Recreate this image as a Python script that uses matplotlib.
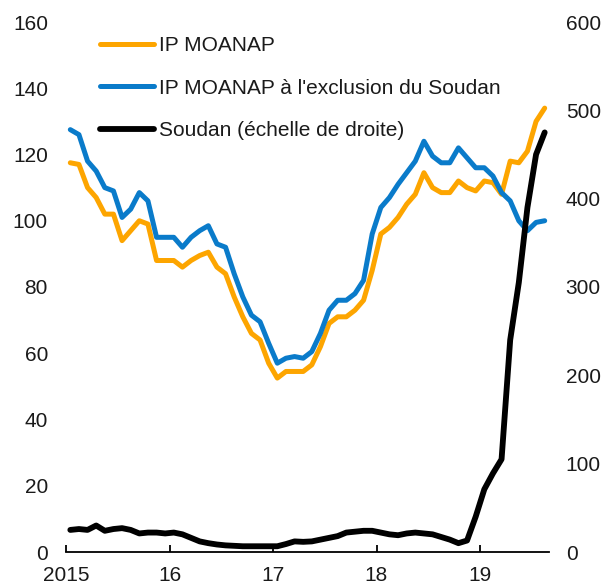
import numpy as np
import matplotlib
matplotlib.use("Agg")
import matplotlib.pyplot as plt

plt.rcParams['font.family'] = ['Liberation Sans', 'DejaVu Sans']

# Données mensuelles, janvier 2015 - août 2019
moanap = [117.5, 117, 110, 107, 102, 102, 94, 97, 100, 99, 88, 88,
          88, 86, 88, 89.5, 90.5, 86, 84, 77, 71, 66, 64, 57,
          52.5, 54.5, 54.5, 54.5, 56.5, 62, 69, 71, 71, 73, 76, 85,
          96, 98, 101, 105, 108, 114.5, 110, 108.5, 108.5, 112, 110, 109,
          112, 111.5, 108, 118, 117.5, 121, 130, 134]
moanap_hors_soudan = [127.5, 126, 118, 115, 110, 109, 101, 103.5, 108.5, 106, 95, 95,
                      95, 92, 95, 97, 98.5, 93, 92, 84, 77, 71.5, 69.5, 63,
                      57, 58.5, 59, 58.5, 60.5, 66, 73, 76, 76, 78, 82, 96,
                      104, 107, 111, 114.5, 118, 124, 119.5, 117.5, 117.5, 122, 119, 116,
                      116, 113.5, 108.5, 106, 100, 97, 99.5, 100]
soudan = [25, 26, 25, 30, 24, 26, 27, 25, 21, 22, 22, 21,
          22, 20, 16, 12, 10, 8.5, 7.5, 7, 6.5, 6.5, 6.5, 6.5,
          6.5, 9, 12, 11.5, 12, 14, 16, 18, 22, 23, 24, 24,
          22, 20, 19, 21, 22, 21, 20, 17, 14, 10, 13, 40,
          71, 89, 105, 240, 305, 390, 450, 475]

year_labels = ['2015', '16', '17', '18', '19']
left_ticks = [0, 20, 40, 60, 80, 100, 120, 140, 160]
right_ticks = [0, 100, 200, 300, 400, 500, 600]

ORANGE = '#FDA500'
BLUE = '#0A7BCA'
TXT = '#1a1a1a'

months = np.arange(len(moanap)) + 0.5

fig = plt.figure(figsize=(6.13, 5.86), dpi=100)
ax = fig.add_axes([66 / 613, 1 - 552 / 586, (549 - 66) / 613, (552 - 22) / 586])
ax2 = ax.twinx()

l1, = ax.plot(months, moanap, color=ORANGE, lw=3.6, solid_joinstyle='round', solid_capstyle='round',
              label='IP MOANAP')
l2, = ax.plot(months, moanap_hors_soudan, color=BLUE, lw=3.6, solid_joinstyle='round',
              solid_capstyle='round', label="IP MOANAP à l'exclusion du Soudan")
l3, = ax2.plot(months, soudan, color='black', lw=4.2, solid_joinstyle='round', solid_capstyle='round',
               label='Soudan (échelle de droite)')

ax.set_xlim(0, 56)
ax.set_ylim(0, 160)
ax2.set_ylim(0, 600)
ax.set_yticks(left_ticks)
ax2.set_yticks(right_ticks)
ax.set_xticks([0, 12, 24, 36, 48])
ax.set_xticklabels(year_labels)

for a in (ax, ax2):
    for s in ['top', 'left', 'right']:
        a.spines[s].set_visible(False)
    a.spines['bottom'].set_visible(a is ax)
ax.spines['bottom'].set_linewidth(1.3)
ax.spines['bottom'].set_color('black')

ax.tick_params(axis='y', length=0, pad=13, labelsize=15, labelcolor=TXT)
ax2.tick_params(axis='y', length=0, pad=12, labelsize=15, labelcolor=TXT)
ax.tick_params(axis='x', direction='in', length=5, width=1.3, pad=10, labelsize=15, labelcolor=TXT)

leg = ax.legend(handles=[l1, l2, l3], loc='upper left', bbox_to_anchor=(100 / 613, 1 - 36 / 586),
                bbox_transform=fig.transFigure, frameon=False, fontsize=15, borderpad=0,
                borderaxespad=0, handlelength=2.6, handletextpad=0.25, labelspacing=1.14)
for t in leg.get_texts():
    t.set_color(TXT)
leg.set_zorder(5)

fig.savefig('out.png', dpi=100)
